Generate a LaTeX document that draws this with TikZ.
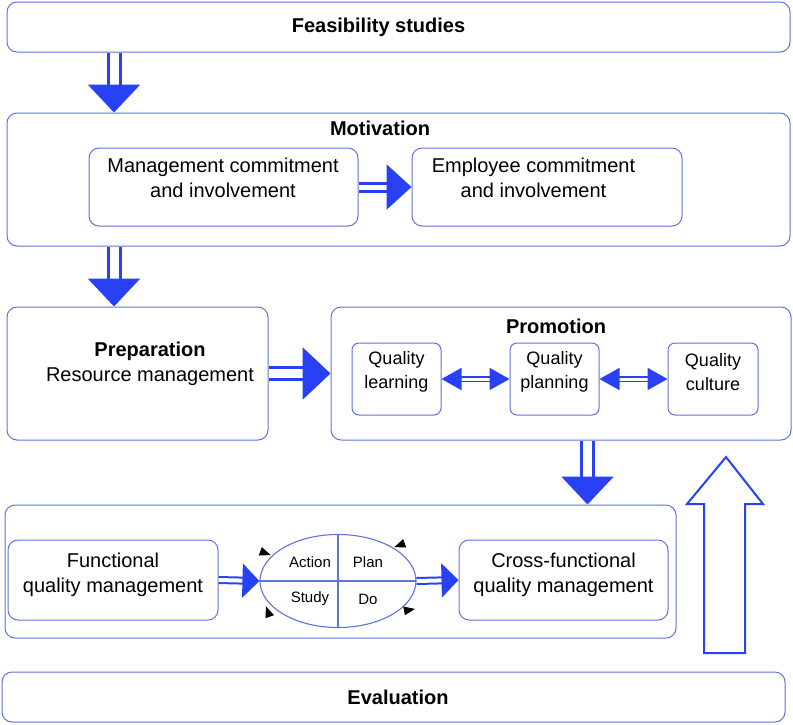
\documentclass[tikz,border=0pt]{standalone}
\usepackage{fontspec}
\setmainfont{Liberation Sans}
\usetikzlibrary{arrows.meta, shapes.geometric}
\definecolor{boxblue}{RGB}{95,115,220}
\definecolor{arrowblue}{RGB}{40,65,245}

\begin{document}
\begin{tikzpicture}[x=1pt, y=-1pt]
\tikzstyle{frame}=[draw=boxblue, line width=1pt, rounded corners=10pt, inner sep=0pt, align=center,
			font=\fontsize{20}{25}\selectfont]
\tikzstyle{small frame}=[frame, rounded corners=7pt, font=\fontsize{18}{24}\selectfont]
\tikzstyle{caption}=[inner sep=0pt, align=center, font=\fontsize{20}{25}\selectfont]
\tikzstyle{heading}=[caption, font=\fontsize{20}{25}\selectfont\bfseries]
\tikzstyle{cycle text}=[caption, font=\fontsize{15}{17}\selectfont]
\tikzstyle{big arrow}=[draw=arrowblue, line width=3pt, double=white, double distance=9pt,
			-{Triangle[length=28pt, width=52pt]}]
\tikzstyle{mid arrow}=[draw=arrowblue, line width=3pt, double=white, double distance=5pt,
			-{Triangle[length=25pt, width=45pt]}]
\tikzstyle{thin arrow}=[draw=arrowblue, line width=2pt, double=white, double distance=4pt,
			-{Triangle[length=17pt, width=34pt]}]
\tikzstyle{both arrow}=[draw=arrowblue, line width=1.8pt, double=white, double distance=3pt,
			{Triangle[length=20pt, width=22pt]}-{Triangle[length=20pt, width=22pt]}]

\useasboundingbox (0,0) rectangle (793,724);

% outer frames
\node[frame, minimum width=783pt, minimum height=50pt] (feas) at (398.5,27) {};
\node[frame, minimum width=783pt, minimum height=133pt] (motiv) at (398.5,179.5) {};
\node[frame, minimum width=261pt, minimum height=133pt] (prep) at (137.5,373.5) {};
\node[frame, minimum width=460pt, minimum height=133pt] (promo) at (561,373.5) {};
\node[frame, minimum width=671pt, minimum height=133pt] (lower) at (340.5,571.5) {};
\node[frame, minimum width=783pt, minimum height=50pt] (eval) at (393.5,697) {};

\node[heading] (feastext) at (378.5,27) {Feasibility studies};
\node[heading] (motivtitle) at (380,128) {Motivation};
\node[caption] (preptext) at (150,364) {\textbf{Preparation}\\Resource management};
\node[heading] (promotitle) at (556,326) {Promotion};
\node[heading] (evaltext) at (398,697) {Evaluation};

% inner boxes
\node[frame, minimum width=269pt, minimum height=78pt] (mgmt) at (223.5,187) {};
\node[caption] (mgmttext) at (223,178) {Management commitment\\and involvement};
\node[frame, minimum width=270pt, minimum height=78pt] (empl) at (547,187) {};
\node[caption] (empltext) at (533.5,178) {Employee commitment\\and involvement};

\node[small frame, minimum width=89pt, minimum height=72pt] (qlearn) at (396.5,379) {};
\node[caption, font=\fontsize{18}{24}\selectfont] (qlearntext) at (396.5,372) {Quality\\learning};
\node[small frame, minimum width=89pt, minimum height=72pt] (qplan) at (554.5,379) {};
\node[caption, font=\fontsize{18}{24}\selectfont] (qplantext) at (554.5,372) {Quality\\planning};
\node[small frame, minimum width=90pt, minimum height=72pt] (qcult) at (713,379) {};
\node[caption, font=\fontsize{18}{24}\selectfont] (qculttext) at (713,372) {Quality\\culture};

\node[frame, minimum width=210pt, minimum height=80pt] (func) at (113,580) {};
\node[caption] (functext) at (113,575) {Functional\\quality management};
\node[frame, minimum width=209pt, minimum height=80pt] (cross) at (563.5,580) {};
\node[caption] (crosstext) at (563.5,575) {Cross-functional\\quality management};

% PDCA ellipse
\node[draw=boxblue, line width=1.1pt, ellipse, minimum width=156pt, minimum height=93pt, inner sep=0pt] (pdca) at (338,581) {};
\draw[boxblue, line width=1.1pt] (pdca.north) -- (pdca.south);
\draw[boxblue, line width=1.1pt] (pdca.west) -- (pdca.east);
\node[cycle text] (act) at (310,562) {Action};
\node[cycle text] (plan) at (368,562) {Plan};
\node[cycle text] (study) at (310,599) {Study};
\node[cycle text] (do) at (368,599) {Do};
\foreach \px/\py/\ang in {265/553/-20, 400/545/200, 268/612/110, 409/610/10}
	\fill[shift={(\px,\py)}, rotate=\ang] (6,0) -- (-5,-4.5) -- (-5,4.5) -- cycle;

% connectors
\coordinate (col1) at (114,0);
\coordinate (col2) at (587.5,0);
\draw[big arrow] (feas.south -| col1) -- (motiv.north -| col1);
\draw[mid arrow] (mgmt.east) -- (empl.west);
\draw[big arrow] (motiv.south -| col1) -- (prep.north -| col1);
\draw[big arrow] (prep.east) -- (promo.west);
\draw[both arrow] (qlearn.east) -- (qplan.west);
\draw[both arrow] (qplan.east) -- (qcult.west);
\draw[big arrow] (promo.south -| col2) -- (lower.north -| col2);
\draw[thin arrow] (func.east) -- (pdca.west);
\draw[thin arrow] (pdca.east) -- (cross.west);

% hollow arrow
\draw[arrowblue, line width=2pt] (704,653) -- (704,504) -- (687,504) -- (726,457) -- (763,504) -- (745,504) -- (745,653) -- cycle;

\end{tikzpicture}
\end{document}
